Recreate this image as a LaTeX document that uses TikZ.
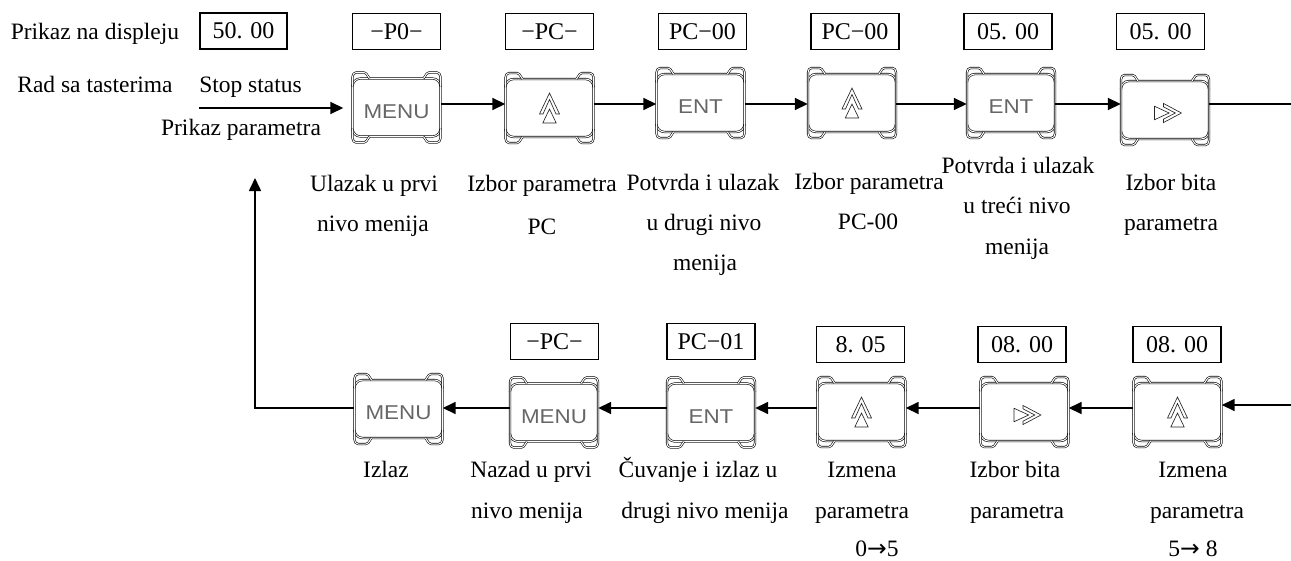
\documentclass[tikz,border=0pt]{standalone}
\usepackage{graphicx}
\usepackage{fontspec}
\setmainfont{Liberation Serif}
\newfontfamily\keyfont{Liberation Sans}
\newfontfamily\arrowfont{DejaVu Sans}
\usetikzlibrary{arrows.meta}

\newcommand\keyframe[1]{%
  \begin{scope}[shift={(#1.center)}]
    \draw[kframe, rounded corners=8pt] (-44,-29) rectangle (44,29);
    \draw[kframe] (-44,-21) -- (-44,-32) -- (-42,-35) -- (-31,-35) -- (-27,-29);
    \draw[kframe] (44,-21) -- (44,-32) -- (42,-35) -- (31,-35) -- (27,-29);
    \draw[kframe] (-44,21) -- (-44,32) -- (-42,35) -- (-31,35) -- (-27,29);
    \draw[kframe] (44,21) -- (44,32) -- (42,35) -- (31,35) -- (27,29);
  \end{scope}}
\newcommand\upsym[1]{%
  \begin{scope}[shift={(#1.center)}]
    \draw[sym] (0,-15) -- (10,6) -- (6.5,6) -- (0,-8.5) -- (-6.5,6) -- (-10,6) -- cycle;
    \draw[sym] (0,1) -- (6.7,15) -- (-6.7,15) -- cycle;
  \end{scope}}
\newcommand\rightsym[1]{%
  \begin{scope}[shift={(#1.center)}, shift={(3,3)}, scale=1.12]
    \draw[sym] (12,0) -- (-4,8.5) -- (-4,5.5) -- (6.5,0) -- (-4,-5.5) -- (-4,-8.5) -- cycle;
    \draw[sym] (1,0) -- (-12,6) -- (-12,-6) -- cycle;
  \end{scope}}
\newcommand\lbl[4]{\node[lbl] (#1) at (#2,#3) {#4};}
\newcommand\kt[1]{\scalebox{1.12}[1]{#1}}

\begin{document}
\begin{tikzpicture}[x=1pt,y=-1pt,
  lbl/.style={anchor=base, inner sep=0pt, font=\fontsize{23.5}{28}\selectfont},
  disp/.style={draw, line width=1.4pt, minimum width=88pt, minimum height=36pt, inner sep=0pt, font=\fontsize{24}{28}\selectfont},
  keynode/.style={minimum width=88pt, minimum height=58pt, inner sep=0pt, font=\keyfont\fontsize{20}{20}\selectfont, text=black!60, text height=21pt, text depth=0pt},
  kframe/.style={draw=black, line width=0.6pt, double=white, double distance=1pt, rounded corners=1.5pt},
  sym/.style={draw=black!85, line width=0.65pt},
  conn/.style={line width=1.6pt},
  arr/.style={conn, -{Triangle[length=13pt,width=12pt]}},
]
\useasboundingbox (0,0) rectangle (1291,560);

% display boxes, top row
\node[disp, minimum width=87pt] (d1) at (243.5,31) {50. 00};
\node[disp] (d2) at (396.5,31.5) {−P0−};
\node[disp] (d3) at (549.5,31.5) {−PC−};
\node[disp] (d4) at (702.5,31.5) {PC−00};
\node[disp] (d5) at (855,31.5) {PC−00};
\node[disp] (d6) at (1008,31.5) {05. 00};
\node[disp] (d7) at (1160.5,31.5) {05. 00};

% display boxes, bottom row
\node[disp] (e1) at (554.5,341.5) {−PC−};
\node[disp] (e2) at (711,341.5) {PC−01};
\node[disp] (e3) at (860.5,344.5) {8. 05};
\node[disp] (e4) at (1022,344.5) {08. 00};
\node[disp] (e5) at (1177,344.5) {08. 00};

% keys, top row
\node[keynode] (k1) at (396.5,107.5) {\kt{MENU}};
\node[keynode] (k2) at (549.5,108) {};
\node[keynode] (k3) at (700.5,103) {\kt{ENT}};
\node[keynode] (k4) at (852,103) {};
\node[keynode] (k5) at (1011,103) {\kt{ENT}};
\node[keynode] (k6) at (1165,110) {};

% keys, bottom row
\node[keynode] (b1) at (398.5,409) {\kt{MENU}};
\node[keynode] (b2) at (554,412.5) {\kt{MENU}};
\node[keynode] (b3) at (711,412.5) {\kt{ENT}};
\node[keynode] (b4) at (861.5,412) {};
\node[keynode] (b5) at (1024.5,412) {};
\node[keynode] (b6) at (1177.5,412) {};

\foreach \k in {k1,k2,k3,k4,k5,k6,b1,b2,b3,b4,b5,b6} {\keyframe{\k}}
\upsym{k2}
\upsym{k4}
\rightsym{k6}
\upsym{b4}
\rightsym{b5}
\upsym{b6}

% connectors
\coordinate (ytop) at (0,104);
\coordinate (ybot) at (0,408);
\coordinate (s0) at (199,108);
\draw[arr, shorten >=9pt] (s0) -- (s0 -| k1.west);
\draw[arr] (k1.east |- ytop) -- (k2.west |- ytop);
\draw[arr] (k2.east |- ytop) -- (k3.west |- ytop);
\draw[arr] (k3.east |- ytop) -- (k4.west |- ytop);
\draw[arr] (k4.east |- ytop) -- (k5.west |- ytop);
\draw[arr] (k5.east |- ytop) -- (k6.west |- ytop);
\coordinate (rt) at (1291,104);
\draw[conn] (k6.east |- rt) -- (rt);

\coordinate (rb) at (1291,405);
\draw[arr] (rb) -- (b6.east |- rb);
\draw[arr] (b6.west |- ybot) -- (b5.east |- ybot);
\draw[arr] (b5.west |- ybot) -- (b4.east |- ybot);
\draw[arr] (b4.west |- ybot) -- (b3.east |- ybot);
\draw[arr] (b3.west |- ybot) -- (b2.east |- ybot);
\draw[arr] (b2.west |- ybot) -- (b1.east |- ybot);
\coordinate (ret) at (255,408);
\coordinate (retend) at (255,178);
\draw[arr] (b1.west |- ybot) -- (ret) -- (retend);

% left labels
\lbl{t1}{95}{39}{Prikaz na displeju}
\lbl{t2}{95}{92}{Rad sa tasterima}
\lbl{t3}{250.5}{92}{Stop status}
\lbl{t4}{241}{135}{Prikaz parametra}

% top labels
\lbl{l1a}{374}{191}{Ulazak u prvi}
\lbl{l1b}{373}{231}{nivo menija}
\lbl{l2a}{542}{191}{Izbor parametra}
\lbl{l2b}{542}{234}{PC}
\lbl{l3a}{703}{190}{Potvrda i ulazak}
\lbl{l3b}{704}{230}{u drugi nivo}
\lbl{l3c}{705}{270}{menija}
\lbl{l4a}{869}{189}{Izbor parametra}
\lbl{l4b}{868}{229}{PC-00}
\lbl{l5a}{1018}{173}{Potvrda i ulazak}
\lbl{l5b}{1017}{213}{u treći nivo}
\lbl{l5c}{1017}{254}{menija}
\lbl{l6a}{1171}{190}{Izbor bita}
\lbl{l6b}{1171}{230}{parametra}

% bottom labels
\lbl{m1a}{386}{477}{Izlaz}
\lbl{m2a}{531}{477}{Nazad u prvi}
\lbl{m2b}{527}{518}{nivo menija}
\lbl{m3a}{698}{477}{Čuvanje i izlaz u}
\lbl{m3b}{705}{518}{drugi nivo menija}
\lbl{m4a}{862}{477}{Izmena}
\lbl{m4b}{862}{518}{parametra}
\lbl{m4c}{877}{556}{0{\arrowfont →}5}
\lbl{m5a}{1015}{477}{Izbor bita}
\lbl{m5b}{1017}{518}{parametra}
\lbl{m6a}{1193}{477}{Izmena}
\lbl{m6b}{1197}{518}{parametra}
\lbl{m6c}{1193}{556}{5{\arrowfont →} 8}
\end{tikzpicture}
\end{document}
